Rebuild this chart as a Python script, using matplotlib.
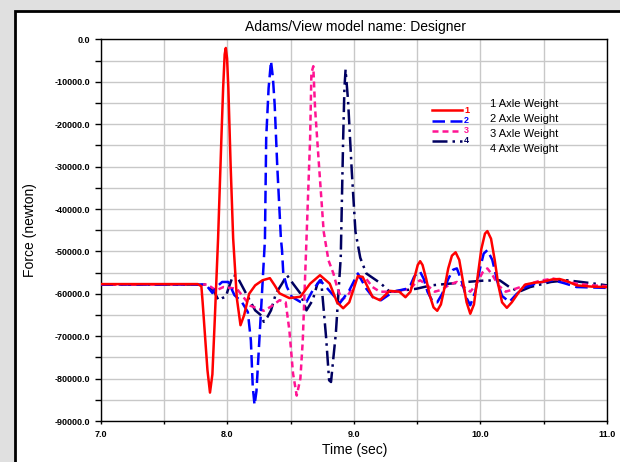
import matplotlib
matplotlib.use('Agg')
import matplotlib.pyplot as plt
from matplotlib.patches import Rectangle
from matplotlib.ticker import MultipleLocator, FormatStrFormatter

plt.rcParams['font.family'] = ['Liberation Sans', 'DejaVu Sans']
plt.rcParams['axes.unicode_minus'] = False

# datos (tiempo en s, fuerza en N)
t_eje1 = [7.0, 7.767, 7.796, 7.806, 7.825, 7.844, 7.864, 7.883, 7.902, 7.928, 7.955,
          7.968, 7.980, 7.989, 7.999, 8.009, 8.027, 8.047, 8.076, 8.105, 8.134, 8.173,
          8.221, 8.279, 8.337, 8.375, 8.414, 8.491, 8.578, 8.655, 8.733, 8.810, 8.868,
          8.916, 8.964, 9.032, 9.070, 9.148, 9.206, 9.283, 9.360, 9.408, 9.447, 9.476,
          9.505, 9.524, 9.543, 9.572, 9.601, 9.630, 9.659, 9.688, 9.717, 9.746, 9.775,
          9.804, 9.833, 9.862, 9.891, 9.920, 9.949, 9.978, 10.007, 10.036, 10.055,
          10.084, 10.113, 10.142, 10.171, 10.209, 10.248, 10.306, 10.354, 10.422,
          10.489, 10.567, 10.625, 10.683, 10.760, 10.880, 11.0]
f_eje1 = [-57700, -57700, -58200, -62000, -70000, -78000, -83300, -79000, -66000, -46900,
          -22500, -11400, -3500, -2000, -4500, -11400, -29600, -46900, -61000, -67400,
          -65000, -60000, -58000, -56800, -56300, -58000, -59900, -61000, -60700, -57600,
          -55600, -57600, -62000, -63400, -62000, -55800, -56000, -60700, -61500, -59300,
          -59500, -60800, -59500, -56500, -53200, -52300, -53200, -56500, -60500, -63200,
          -64000, -62500, -58500, -54000, -51000, -50200, -52000, -57000, -62000, -64700,
          -62500, -56000, -49500, -45800, -45200, -47000, -52000, -58000, -62000, -63300,
          -62000, -59500, -57800, -57400, -57200, -56600, -56500, -57000, -58000, -58300,
          -58400]

t_eje2 = [7.0, 7.816, 7.844, 7.883, 7.912, 7.960, 8.009, 8.057, 8.115, 8.163, 8.187,
          8.202, 8.216, 8.231, 8.250, 8.269, 8.298, 8.308, 8.327, 8.346, 8.361, 8.375,
          8.395, 8.424, 8.433, 8.443, 8.472, 8.510, 8.578, 8.626, 8.675, 8.733, 8.781,
          8.849, 8.887, 8.964, 9.032, 9.099, 9.157, 9.215, 9.312, 9.418, 9.447, 9.476,
          9.505, 9.524, 9.553, 9.582, 9.621, 9.659, 9.698, 9.746, 9.785, 9.814, 9.852,
          9.891, 9.920, 9.959, 9.997, 10.026, 10.055, 10.094, 10.133, 10.171, 10.229,
          10.287, 10.354, 10.470, 10.576, 10.663, 10.760, 10.880, 11.0]
f_eje2 = [-57800, -57800, -58300, -59800, -58500, -57200, -57200, -60300, -61900, -64300,
          -71000, -82000, -86200, -83000, -73000, -63000, -47300, -23300, -11500, -5100,
          -9000, -15400, -29600, -46900, -49700, -55200, -58400, -60700, -61900, -61900,
          -59200, -56800, -58400, -60700, -62300, -59200, -55200, -58800, -61000, -61500,
          -59500, -58800, -58000, -56000, -54900, -54800, -56500, -59500, -61700, -62000,
          -60000, -56500, -54300, -54000, -57000, -61000, -62700, -59500, -54000, -50500,
          -49700, -52000, -57000, -60500, -61900, -60000, -58400, -57300, -56800, -57500,
          -58400, -58500, -58600]

t_eje3 = [7.0, 7.844, 7.883, 7.912, 7.970, 8.076, 8.134, 8.182, 8.289, 8.346, 8.414,
          8.462, 8.491, 8.520, 8.549, 8.578, 8.597, 8.626, 8.655, 8.665, 8.680, 8.694,
          8.723, 8.762, 8.800, 8.839, 8.868, 8.906, 8.964, 9.022, 9.099, 9.148, 9.206,
          9.312, 9.447, 9.486, 9.524, 9.572, 9.640, 9.698, 9.756, 9.814, 9.862, 9.920,
          9.968, 10.016, 10.055, 10.094, 10.142, 10.200, 10.277, 10.354, 10.470,
          10.576, 10.663, 10.760, 10.880, 11.0]
f_eje3 = [-57800, -57800, -58600, -59200, -58400, -58800, -61000, -62800, -64000, -63000,
          -61500, -62000, -68600, -78800, -84000, -80000, -71000, -47300, -23300, -8000,
          -6300, -16200, -28800, -45300, -52100, -55200, -58400, -61500, -59900, -56000,
          -56500, -58400, -59500, -59500, -58800, -57500, -56800, -57800, -59500, -59000,
          -57800, -57200, -58200, -59500, -57800, -55000, -54000, -55500, -58000, -59500,
          -58800, -58000, -56900, -56400, -57000, -57600, -58000, -58200]

t_eje4 = [7.0, 7.835, 7.864, 7.893, 7.931, 7.960, 7.989, 8.009, 8.047, 8.076, 8.115,
          8.163, 8.221, 8.269, 8.289, 8.317, 8.346, 8.385, 8.433, 8.472, 8.520, 8.578,
          8.626, 8.675, 8.713, 8.742, 8.781, 8.805, 8.820, 8.839, 8.858, 8.897, 8.916,
          8.926, 8.935, 8.955, 8.984, 9.013, 9.051, 9.099, 9.177, 9.215, 9.283, 9.389,
          9.495, 9.611, 9.756, 9.891, 10.016, 10.152, 10.229, 10.306, 10.393, 10.557,
          10.683, 10.880, 11.0]
f_eje4 = [-57800, -57800, -58400, -59200, -61500, -61000, -60700, -58800, -55600, -55800,
          -58000, -60700, -63900, -65100, -66600, -65500, -63900, -59900, -57600, -55600,
          -57600, -59900, -63900, -61500, -57600, -56800, -70200, -80400, -80800, -75000,
          -69400, -51300, -23300, -11400, -7100, -14600, -31100, -45300, -51500, -55200,
          -56800, -57600, -59500, -59200, -58800, -58000, -57600, -57200, -56900, -56800,
          -58400, -59500, -58400, -57200, -56800, -57500, -58000]

nombres = ['1 Axle Weight', '2 Axle Weight', '3 Axle Weight', '4 Axle Weight']
colores = ['#ff0000', '#0000ff', '#ff1493', '#000060']
estilos = ['-', (0, (5, 2.2)), (0, (2.4, 1.6)), (0, (6, 2, 1, 2))]

fig = plt.figure(figsize=(6.2, 4.62), dpi=100)
fig.patch.set_facecolor('#e0e0e0')

# panel blanco con borde negro
panel = Rectangle((15 / 620, -0.1), 1.2, 1.1 - 11 / 462, transform=fig.transFigure,
                  facecolor='white', edgecolor='black', lw=2, zorder=0)
fig.add_artist(panel)

ax = fig.add_axes([100.6 / 620, 41 / 462, 506.4 / 620, 381.5 / 462])
ax.set_facecolor('white')

series = [(t_eje1, f_eje1), (t_eje2, f_eje2), (t_eje3, f_eje3), (t_eje4, f_eje4)]
for i in range(4):
    t, f = series[i]
    ax.plot(t, f, color=colores[i], ls=estilos[i], lw=1.8, zorder=3 + (3 - i) * 0.1)

ax.set_xlim(7, 11)
ax.set_ylim(-90000, 0)
ax.xaxis.set_major_locator(MultipleLocator(1.0))
ax.xaxis.set_minor_locator(MultipleLocator(0.5))
ax.yaxis.set_major_locator(MultipleLocator(10000))
ax.yaxis.set_minor_locator(MultipleLocator(5000))
ax.xaxis.set_major_formatter(FormatStrFormatter('%.1f'))
ax.yaxis.set_major_formatter(FormatStrFormatter('%.1f'))
ax.grid(True, which='both', color='#c8c8c8', lw=1)
ax.set_axisbelow(True)
ax.tick_params(axis='y', which='both', direction='out', length=4, width=1, pad=3.5,
               labelsize=6.5)
ax.tick_params(axis='x', which='both', direction='out', length=2.5, width=1, pad=4,
               labelsize=6.5)
for lab in ax.get_xticklabels() + ax.get_yticklabels():
    lab.set_fontweight('bold')
for s in ax.spines.values():
    s.set_color('black')
    s.set_linewidth(1)

fig.text(355 / 620, 1 - 27 / 462, 'Adams/View model name: Designer', ha='center',
         va='center', fontsize=10)
fig.text(30 / 620, 1 - 230 / 462, 'Force (newton)', rotation=90, ha='center',
         va='center', fontsize=10)
fig.text(355 / 620, 1 - 450 / 462, 'Time (sec)', ha='center', va='center', fontsize=10)

# leyenda estilo Adams
y_linea = [0.815, 0.787, 0.761, 0.735]
y_texto = [0.830, 0.791, 0.752, 0.714]
for i in range(4):
    ax.plot([0.654, 0.713], [y_linea[i], y_linea[i]], transform=ax.transAxes,
            color=colores[i], ls=estilos[i], lw=1.8, zorder=6)
    ax.text(0.718, y_linea[i], str(i + 1), transform=ax.transAxes, color=colores[i],
            fontsize=6.5, fontweight='bold', va='center', ha='left', zorder=6)
    ax.text(0.768, y_texto[i], nombres[i], transform=ax.transAxes, fontsize=8,
            va='center', ha='left', zorder=6)

fig.savefig('out.png', dpi=100)
